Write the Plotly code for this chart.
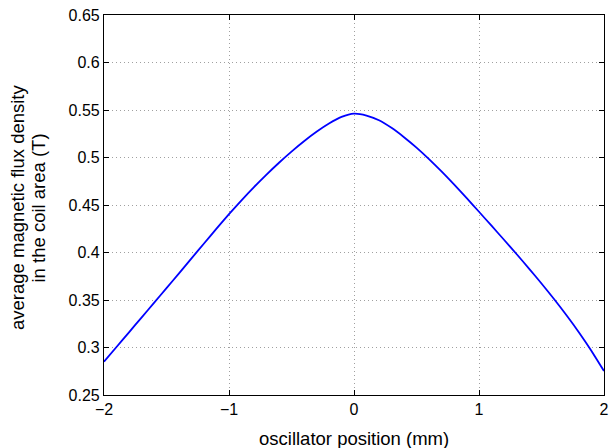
import plotly.graph_objects as go

# oscillator position (mm)
x_pos = [-2.0, -1.9, -1.8, -1.7, -1.6, -1.5, -1.4, -1.3, -1.2, -1.1, -1.0,
         -0.9, -0.8, -0.7, -0.6, -0.5, -0.4, -0.3, -0.2, -0.1, 0.0,
         0.1, 0.2, 0.3, 0.4, 0.5, 0.6, 0.7, 0.8, 0.9, 1.0,
         1.1, 1.2, 1.3, 1.4, 1.5, 1.6, 1.7, 1.8, 1.9, 2.0]
# average magnetic flux density in the coil area (T)
b_avg = [0.2850, 0.3005, 0.3160, 0.3315, 0.3470, 0.3625, 0.3781, 0.3938, 0.4095, 0.4251, 0.4403,
         0.4549, 0.4688, 0.4820, 0.4945, 0.5062, 0.5171, 0.5270, 0.5357, 0.5427, 0.5462,
         0.5442, 0.5392, 0.5312, 0.5214, 0.5104, 0.4983, 0.4853, 0.4716, 0.4574, 0.4429,
         0.4282, 0.4134, 0.3984, 0.3831, 0.3674, 0.3511, 0.3340, 0.3159, 0.2964, 0.2752]

x_ticks = [-2, -1, 0, 1, 2]
y_ticks = [0.25, 0.3, 0.35, 0.4, 0.45, 0.5, 0.55, 0.6, 0.65]
y_tick_text = ["0.25", "0.3", "0.35", "0.4", "0.45", "0.5", "0.55", "0.6", "0.65"]

FONT = "Liberation Sans, Arial, Helvetica, sans-serif"

fig = go.Figure()
fig.add_trace(go.Scatter(x=x_pos, y=b_avg, mode="lines",
                         line=dict(color="#0000ff", width=1.8, shape="spline", smoothing=0.6),
                         showlegend=False, hoverinfo="skip"))

axis_common = dict(showline=True, linecolor="black", linewidth=1.2, mirror="ticks",
                   ticks="inside", ticklen=5, tickcolor="black", tickwidth=1,
                   showgrid=True, gridcolor="#a0a0a0", griddash="1px,3px", gridwidth=1,
                   zeroline=False, tickfont=dict(family=FONT, size=16, color="black"))

fig.update_xaxes(range=[-2, 2], tickvals=x_ticks, **axis_common)
fig.update_yaxes(range=[0.25, 0.65], tickvals=y_ticks, ticktext=y_tick_text, **axis_common)

fig.add_annotation(text="oscillator position (mm)", xref="paper", yref="paper",
                   x=0.5, y=0, yshift=-43, showarrow=False, yanchor="middle",
                   font=dict(family=FONT, size=18.5, color="black"))
fig.add_annotation(text="average magnetic flux density",
                   xref="paper", yref="paper", x=0, xshift=-87, y=0.5, yshift=-3,
                   showarrow=False, textangle=-90, xanchor="center", yanchor="middle",
                   font=dict(family=FONT, size=18.5, color="black"))
fig.add_annotation(text="in the coil area (T)",
                   xref="paper", yref="paper", x=0, xshift=-66.5, y=0.5, yshift=-3,
                   showarrow=False, textangle=-90, xanchor="center", yanchor="middle",
                   font=dict(family=FONT, size=18.5, color="black"))

fig.update_layout(width=615, height=448, margin=dict(l=104, r=6, t=15, b=53),
                  plot_bgcolor="white", paper_bgcolor="white")

fig.write_html("out.html")
